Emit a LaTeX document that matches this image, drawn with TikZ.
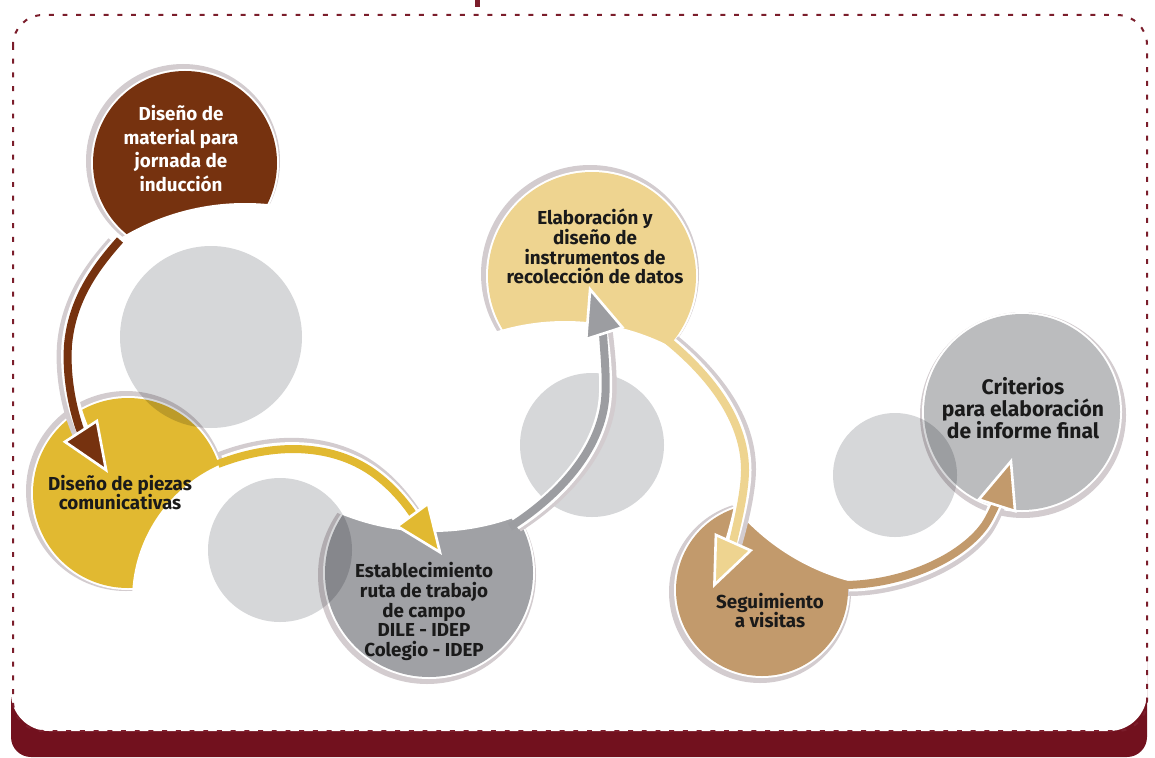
\documentclass[tikz,border=0pt]{standalone}
\usepackage{fontspec}
\setmainfont{Fira Sans}
\usetikzlibrary{arrows.meta}
\newdimen\pxu \pxu=0.02cm
\definecolor{maroonc}{HTML}{72111E}
\definecolor{dashc}{HTML}{7B1D2B}
\definecolor{brownc}{HTML}{76320F}
\definecolor{yellowc}{HTML}{E1B931}
\definecolor{grayc}{HTML}{A0A1A5}
\definecolor{lyellowc}{HTML}{EED490}
\definecolor{tanc}{HTML}{C29A6C}
\definecolor{critc}{HTML}{BBBCBE}
\definecolor{decorc}{HTML}{D6D7D9}
\definecolor{ringc}{HTML}{D3CCCF}
\definecolor{garrowc}{HTML}{9C9DA1}
\definecolor{textc}{HTML}{1A1A1A}
\tikzset{
  lbl/.style={align=center, inner sep=0pt, text=textc, font=\fontsize{10.7}{11.3}\selectfont\bfseries},
  decor/.style={fill=decorc},
  arrshadow/.style={draw=ringc, line width=12\pxu, shorten >=38\pxu, shorten <=3\pxu},
  arrwhite/.style={draw=white, line width=13\pxu, shorten >=26\pxu, shorten <=6\pxu},
  arrbody/.style={draw=#1, line width=8\pxu, -{Triangle[length=29pt, width=23.5pt, fill=#1, color=white, line width=1.5pt]}},
}
% cx cy r colour shadow-dx shadow-dy bite-cx bite-cy bite-r
\newcommand{\stepdisc}[9]{%
  \fill[ringc] (#1+#5,#2+#6) circle (#3+5);
  \fill[white] (#1,#2) circle (#3+2);
  \fill[#4] (#1,#2) circle (#3);
  \begin{scope}
    \clip (#1,#2) circle (#3+10);
    \fill[white] (#7,#8) circle (#9);
  \end{scope}}
\newcommand{\pathA}{(a1s) .. controls (95,268) and (72,300) .. (68,345) .. controls (65,390) and (80,430) .. (a1t)}
\newcommand{\pathB}{(a2s) .. controls (280,440) and (340,445) .. (380,478) .. controls (405,498) and (420,525) .. (a2t)}
\newcommand{\pathC}{(a4s) .. controls (560,495) and (600,450) .. (605,400) .. controls (608,370) and (600,320) .. (a4t)}
\newcommand{\pathD}{(a5s) .. controls (710,375) and (745,420) .. (745,470) .. controls (745,500) and (730,550) .. (a5t)}
\newcommand{\pathE}{(a3s) .. controls (900,585) and (960,560) .. (985,525) .. controls (995,510) and (1005,480) .. (a3t)}
\begin{document}
\begin{tikzpicture}[x=0.02cm, y=-0.02cm]
\useasboundingbox (0,0) rectangle (1155,757);
% frame
\fill[maroonc, rounded corners=20\pxu] (11,640) rectangle (1147,757);
\fill[white, rounded corners=38\pxu] (11,560) rectangle (1147,731);
\fill[dashc] (475,0) rectangle (480,7);
% step discs
\coordinate (s1) at (185,163);
\coordinate (s2) at (128,493);
\coordinate (s4) at (429,573);
\coordinate (s5) at (592,276);
\coordinate (s3) at (762,590);
\coordinate (s6) at (1022,412);
\stepdisc{185}{163}{92}{brownc}{-2}{-2}{245}{442}{239}
\stepdisc{128}{493}{95}{yellowc}{-2}{-2}{280}{600}{148}
\stepdisc{429}{573}{104}{grayc}{-2}{2}{432}{290}{242}
\stepdisc{592}{276}{104}{lyellowc}{-2}{-2}{565}{552}{231}
\stepdisc{762}{590}{86}{tanc}{-2}{2}{908}{363}{226}
\stepdisc{1022}{412}{98}{critc}{1}{3}{0}{0}{0}
% decorative circles
\begin{scope}[blend mode=multiply]
  \fill[decor] (211,337) circle (91);
  \fill[decor] (280,550) circle (72);
  \fill[decor] (592,445) circle (72);
  \fill[decor] (895,475) circle (62);
\end{scope}
% arrow ends
\coordinate (a1s) at (120,240); \coordinate (a1t) at (108,473);
\coordinate (a2s) at (218,464); \coordinate (a2t) at (442,555);
\coordinate (a4s) at (510,527); \coordinate (a4t) at (589,286);
\coordinate (a5s) at (667,340); \coordinate (a5t) at (713,588);
\coordinate (a3s) at (843,585); \coordinate (a3t) at (1012,458);
% arrows
\draw[arrshadow, transform canvas={xshift=-5\pxu}] \pathA;
\draw[arrwhite] \pathA;
\draw[arrbody=brownc] \pathA;
\draw[arrshadow, transform canvas={xshift=-1\pxu, yshift=5\pxu}] \pathB;
\draw[arrwhite] \pathB;
\draw[arrbody=yellowc] \pathB;
\draw[arrshadow, transform canvas={xshift=5\pxu, yshift=-1\pxu}] \pathC;
\draw[arrwhite] \pathC;
\draw[arrbody=garrowc] \pathC;
\draw[arrshadow, transform canvas={xshift=5\pxu, yshift=1\pxu}] \pathD;
\draw[arrwhite] \pathD;
\draw[arrbody=lyellowc] \pathD;
\draw[arrshadow, transform canvas={xshift=2\pxu, yshift=-5\pxu}] \pathE;
\draw[arrwhite] \pathE;
\draw[arrbody=tanc] \pathE;
% labels
\node[lbl, text=white, font=\fontsize{10.7}{13.6}\selectfont\bfseries] (t1) at (181,148.5) {Diseño de\\material para\\jornada de\\inducción};
\node[lbl] (t2) at (120,492.5) {Diseño de piezas\\comunicativas};
\node[lbl] (t4) at (424,611.5) {Establecimiento\\ruta de trabajo\\de campo\\DILE - IDEP\\Colegio - IDEP};
\node[lbl] (t5) at (595,246.5) {Elaboración y\\diseño de\\instrumentos de\\recolección de datos};
\node[lbl] (t3) at (770,610.5) {Seguimiento\\a visitas};
\node[lbl, font=\fontsize{12}{12.5}\selectfont\bfseries] (t6) at (1023,408) {Criterios\\para elaboración\\de informe final};
% dashed border
\draw[dashc, line width=2\pxu, dash pattern=on 2.8pt off 5pt, rounded corners=30\pxu] (13,15) rectangle (1147,731);
\end{tikzpicture}
\end{document}
